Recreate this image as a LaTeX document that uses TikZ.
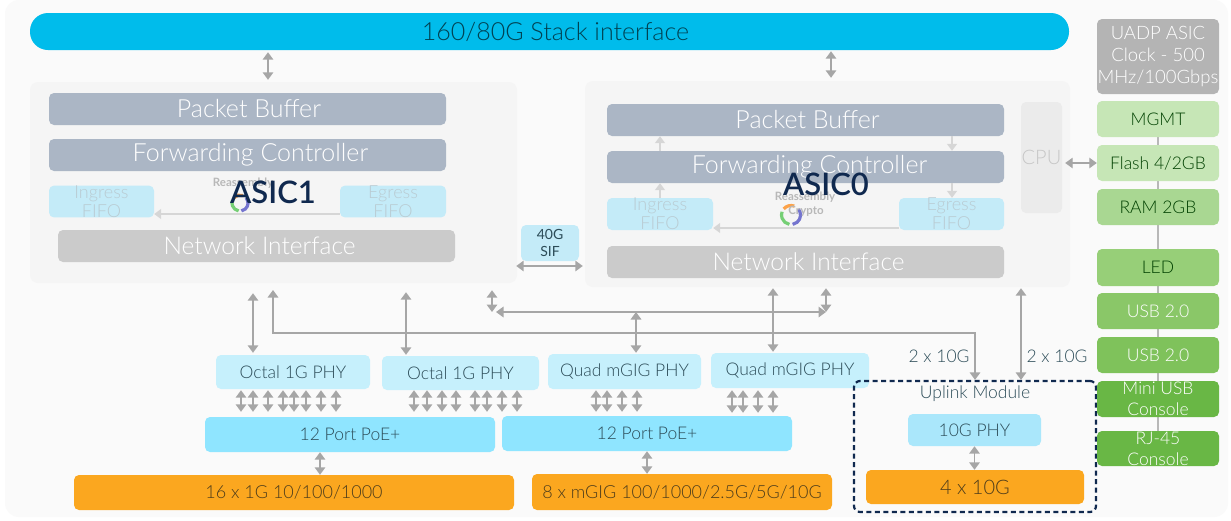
\documentclass[tikz,border=0pt]{standalone}
\usepackage{fontspec}
\setmainfont{Lato}[UprightFont=* Light,BoldFont=Lato Semibold]
\newfontfamily\regfont{Lato}
\usetikzlibrary{arrows.meta}
\definecolor{pagebg}{HTML}{FAFAFA}
\definecolor{panelc}{HTML}{F5F5F5}
\definecolor{slate}{HTML}{ABB6C5}
\definecolor{netc}{HTML}{CBCBCB}
\definecolor{fifoc}{HTML}{C4EBF8}
\definecolor{fifot}{HTML}{B9CBD2}
\definecolor{phyc}{HTML}{C6F0FC}
\definecolor{poec}{HTML}{8FE5FF}
\definecolor{phy10c}{HTML}{AAE7FB}
\definecolor{orangec}{HTML}{FBA71F}
\definecolor{darkt}{HTML}{2C4C58}
\definecolor{oranget}{HTML}{4E3D1B}
\definecolor{arrowc}{HTML}{A6A6A6}
\definecolor{navy}{HTML}{10294F}
\definecolor{stackc}{HTML}{00BCEB}
\definecolor{greyc}{HTML}{B4B4B4}
\definecolor{gA}{HTML}{C6E6B6}
\definecolor{gB}{HTML}{A9D792}
\definecolor{gC}{HTML}{97CF78}
\definecolor{gD}{HTML}{8AC768}
\definecolor{gE}{HTML}{7FC25B}
\definecolor{gF}{HTML}{69B745}
\newcommand\fs[1]{\fontsize{#1}{#1}\selectfont}
\newcommand\bx[7]{\node[#2,minimum width={(#5-#3)*1pt},minimum height={(#6-#4)*1pt}] (#1) at ({(#3+#5)/2},{(#4+#6)/2}) {#7};}
% nudge a label inside its box: #1 = rightwards, #2 = downwards
\newcommand\nudge[3]{\raisebox{-#2pt}{\hspace*{\dimexpr2\dimexpr#1pt\relax\relax}#3}}
\tikzset{
  boxbase/.style={rectangle,rounded corners=5pt,inner sep=0pt,align=center},
  panelbox/.style={boxbase,fill=panelc,rounded corners=8pt},
  slatebox/.style={boxbase,fill=slate,text=white,font=\fs{25}},
  netbox/.style={boxbase,fill=netc,text=white,font=\fs{24.5}},
  fifobox/.style={boxbase,fill=fifoc,text=fifot,font=\fontsize{18}{19}\selectfont},
  cpubox/.style={boxbase,fill=black!8,text=black!22,font=\fs{20}},
  phybox/.style={boxbase,fill=phyc,text=darkt,font=\fs{17.5}},
  poebox/.style={boxbase,fill=poec,text=darkt,font=\fs{17.5}},
  phyten/.style={boxbase,fill=phy10c,text=darkt,font=\fs{17.5}},
  orangebox/.style={boxbase,fill=orangec,text=oranget,font=\fs{18}},
  sidebox/.style={boxbase,text=white,font=\fontsize{17.5}{21}\selectfont},
  sidedark/.style={boxbase,text=black!75!green,font=\fs{17.5}},
  plain/.style={inner sep=0pt,align=center,text=darkt,font=\fs{17.5}},
  dblarrow/.style={draw=arrowc,line width=1.7pt,{Triangle[length=7.5pt,width=10.5pt]}-{Triangle[length=7.5pt,width=10.5pt]}},
  faintarrow/.style={draw=black!16,line width=1.5pt,-{Triangle[length=7pt,width=10pt]}},
  sideline/.style={draw=black!28,line width=1.5pt},
  asiclabel/.style={inner sep=0pt,text=navy,font=\bfseries\fs{31}},
  faintlabel/.style={inner sep=0pt,text=black!28,font=\regfont\bfseries\fs{11.5}},
  ringarc/.style={line width=3.2pt,opacity=.7}
}
\begin{document}
\begin{tikzpicture}[x=1pt,y=-1pt]
\useasboundingbox (0,0) rectangle (1231,520);
\fill[white] (0,0) rectangle (1231,520);
\fill[pagebg,rounded corners=14pt] (5,0) rectangle (1228,517);

\bx{panelA}{panelbox}{30}{82}{517}{283}{}
\bx{panelB}{panelbox}{585}{81}{1070}{287}{}

\coordinate (sideTop) at (1158,137);
\coordinate (sideEnd) at (1158,431);
\draw[sideline] (sideTop) -- (sideEnd);

\bx{stack}{boxbase,fill=stackc,rounded corners=18pt,text=black!65!stackc,font=\fs{25}}{30}{13}{1069}{50}{\nudge{6}{0}{160/80G Stack interface}}

% ASIC1
\bx{pbA}{slatebox}{49}{93}{446}{125}{\nudge{1.5}{1.5}{Packet Buffer}}
\bx{fcA}{slatebox}{49}{139}{446}{171}{\nudge{3}{2}{Forwarding Controller}}
\bx{inA}{fifobox}{49}{186}{154}{217}{Ingress\\FIFO}
\bx{egA}{fifobox}{340}{186}{446}{217}{Egress\\FIFO}
\bx{niA}{netbox}{58}{230}{455}{262}{\nudge{3}{1.5}{Network Interface}}
\draw[faintarrow] (egA.west |- 0,214) -- (inA.east |- 0,214);
\node[faintlabel] (reA) at (243,183) {Reassembly};
\coordinate (ringA) at (240,203);
\draw[ringarc,orange] (ringA) ++(220:8) arc (220:290:8);
\draw[ringarc,blue!50!gray] (ringA) ++(-40:8) arc (-40:80:8);
\draw[ringarc,green!50!gray] (ringA) ++(100:8) arc (100:200:8);

% ASIC0
\bx{pbB}{slatebox}{607}{104}{1004}{136}{\nudge{2}{1.5}{Packet Buffer}}
\bx{fcB}{slatebox}{607}{151}{1004}{183}{\nudge{4}{2.5}{Forwarding Controller}}
\bx{inB}{fifobox}{607}{198}{713}{230}{Ingress\\FIFO}
\bx{egB}{fifobox}{899}{198}{1004}{230}{Egress\\FIFO}
\bx{niB}{netbox}{607}{246}{1004}{278}{\nudge{3}{1}{Network Interface}}
\bx{cpu}{cpubox}{1021}{102}{1062}{213}{CPU}
\draw[faintarrow] (egB.west |- 0,228) -- (inB.east |- 0,228);
\draw[faintarrow] (fcB.north -| 660,0) -- (pbB.south -| 660,0);
\draw[faintarrow] (inB.north -| 660,0) -- (fcB.south -| 660,0);
\draw[faintarrow] (pbB.south -| 952,0) -- (fcB.north -| 952,0);
\draw[faintarrow] (fcB.south -| 952,0) -- (egB.north -| 952,0);
\node[faintlabel] (reB) at (805,197) {Reassembly};
\coordinate (ringB) at (791,215);
\draw[ringarc,orange] (ringB) ++(220:9.5) arc (220:290:9.5);
\draw[ringarc,blue!50!gray] (ringB) ++(-40:9.5) arc (-40:80:9.5);
\draw[ringarc,green!50!gray] (ringB) ++(100:9.5) arc (100:200:9.5);
\node[faintlabel] (crB) at (806,211) {Crypto};

\node[asiclabel] (asicA) at (273,192) {ASIC1};
\node[asiclabel] (asicB) at (826,184) {ASIC0};

\bx{sif}{boxbase,fill=fifoc,text=darkt,font=\regfont\fontsize{14}{17}\selectfont}{521}{225}{579}{261}{40G\\SIF}

% PHY row
\bx{octA}{phybox}{216}{355}{370}{389}{Octal 1G PHY}
\bx{octB}{phybox}{382}{356}{539}{390}{Octal 1G PHY}
\bx{quadA}{phybox}{548}{354}{701}{389}{Quad mGIG PHY}
\bx{quadB}{phybox}{711}{353}{869}{388}{Quad mGIG PHY}
\bx{poeA}{poebox}{205}{417}{495}{452}{12 Port PoE+}
\bx{poeB}{poebox}{502}{416}{792}{451}{12 Port PoE+}
\bx{orA}{orangebox}{74}{475}{514}{510}{16 x 1G 10/100/1000}
\bx{orB}{orangebox}{532}{474}{832}{510}{8 x mGIG 100/1000/2.5G/5G/10G}

% Uplink
\node[draw=navy,line width=2.2pt,dash pattern=on 5pt off 3.5pt,rounded corners=6pt,inner sep=0pt,minimum width=242pt,minimum height=131pt] (uplink) at (975,446.5) {};
\node[plain] (upl) at (975,394) {Uplink Module};
\bx{ten}{phyten}{908}{414}{1041}{446}{10G PHY}
\bx{fourten}{orangebox,font=\fs{20}}{866}{470}{1084}{504}{4 x 10G}
\node[plain] (lblA) at (939,356) {2 x 10G};
\node[plain] (lblB) at (1057,356) {2 x 10G};

% Side column
\bx{uadp}{boxbase,fill=greyc,text=white,font=\fontsize{18.5}{22}\selectfont}{1097}{19}{1219}{94}{UADP ASIC\\Clock - 500\\MHz/100Gbps}
\bx{mgmt}{sidedark,fill=gA}{1097}{101}{1219}{137}{MGMT}
\bx{flash}{sidedark,fill=gA}{1097}{145}{1219}{181}{Flash 4/2GB}
\bx{ram}{sidedark,fill=gB}{1097}{189}{1219}{225}{RAM 2GB}
\bx{led}{sidedark,fill=gC}{1097}{249}{1219}{286}{LED}
\bx{usbA}{sidebox,fill=gD}{1097}{293}{1219}{329}{USB 2.0}
\bx{usbB}{sidebox,fill=gE}{1097}{337}{1219}{373}{USB 2.0}
\bx{mini}{sidebox,fill=gF}{1097}{381}{1219}{417}{Mini USB\\Console}
\bx{rj}{sidebox,fill=gF}{1097}{431}{1219}{466}{RJ-45\\Console}

% Main connectors
\draw[dblarrow,shorten <=2pt,shorten >=2pt] (stack.south -| 268,0) -- (panelA.north -| 268,0);
\draw[dblarrow,shorten <=1pt,shorten >=3pt] (stack.south -| 831,0) -- (panelB.north -| 831,0);
\draw[dblarrow] (panelA.east |- 0,266) ++(-1,0) coordinate (sifL) (panelB.west |- 0,266) ++(-2,0) coordinate (sifR) (sifL) -- (sifR);
\draw[dblarrow,line width=1.2pt] (cpu.east |- flash.west) ++(3,0) coordinate (cpuR) (cpuR) -- (flash.west);

\draw[dblarrow,shorten <=10pt,shorten >=2pt] (panelA.south -| 253,0) -- (octA.north -| 253,0);
\draw[dblarrow,shorten <=9pt,shorten >=1pt] (panelA.south -| 406,0) -- (octB.north -| 406,0);
\draw[dblarrow,shorten <=1pt,shorten >=1pt] (panelB.south -| 773,0) -- (quadB.north -| 773,0);
\coordinate (busL) at (496,312);
\coordinate (busR) at (826,312);
\draw[dblarrow] (busL) -- (busR);
\draw[dblarrow,shorten >=1pt] (busL -| 636,0) -- (quadA.north -| 636,0);
\draw[dblarrow,shorten <=7pt] (panelA.south -| 492,0) -- (busL -| 492,0);
\draw[dblarrow,shorten <=1pt] (panelB.south -| 826,0) -- (busR);
\coordinate (tapUp) at (273,290);
\draw[dblarrow,rounded corners=0pt] (tapUp) -- (273,333) -- (975,333) -- (uplink.north);
\draw[dblarrow,shorten <=1pt] (panelB.south -| 1021,0) -- (uplink.north -| 1021,0);

\foreach \x in {241,253,268,283,294,306,321,336}
  \draw[dblarrow,shorten <=1pt,shorten >=5pt] (octA.south -| \x,0) -- (poeA.north -| \x,0);
\foreach \x in {414,427,442,456,475,487,502,517}
  \draw[dblarrow,shorten <=0pt,shorten >=5pt] (octB.south -| \x,0) -- (poeA.north -| \x,0);
\foreach \x in {596,607,622,637}
  \draw[dblarrow,shorten <=1pt,shorten >=4pt] (quadA.south -| \x,0) -- (poeB.north -| \x,0);
\foreach \x in {732,743,758,773}
  \draw[dblarrow,shorten <=2pt,shorten >=3pt] (quadB.south -| \x,0) -- (poeB.north -| \x,0);
\draw[dblarrow] (poeA.south -| 320,0) -- (orA.north -| 320,0);
\draw[dblarrow] (poeB.south -| 647,0) -- (orB.north -| 647,0);
\draw[dblarrow] (ten.south) -- (fourten.north -| ten.south);
\end{tikzpicture}
\end{document}
